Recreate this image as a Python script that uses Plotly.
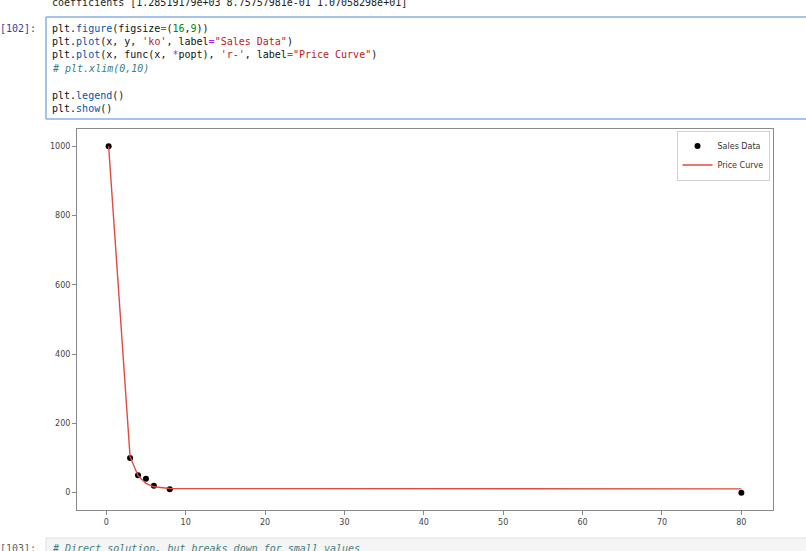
import plotly.graph_objects as go

# sales data points (x, y)
sales_x = [0.3, 3, 4, 5, 6, 8, 80]
sales_y = [1000, 100, 50, 40, 20, 10, 0]
# fitted price curve, sampled at the same x values
curve_y = [1000, 104, 49, 27, 17, 12, 11]

x_ticks = [0, 10, 20, 30, 40, 50, 60, 70, 80]
y_ticks = [0, 200, 400, 600, 800, 1000]

code_lines = [
    'plt.<span style="color:#0055aa">figure</span>(figsize<span style="color:#aa22ff">=</span>(<span style="color:#008800">16</span>,<span style="color:#008800">9</span>))',
    'plt.<span style="color:#0055aa">plot</span>(x, y, <span style="color:#ba2121">\'ko\'</span>, label<span style="color:#aa22ff">=</span><span style="color:#ba2121">"Sales Data"</span>)',
    'plt.<span style="color:#0055aa">plot</span>(x, func(x, <span style="color:#aa22ff">*</span>popt), <span style="color:#ba2121">\'r-\'</span>, label<span style="color:#aa22ff">=</span><span style="color:#ba2121">"Price Curve"</span>)',
    '<i><span style="color:#408080"># plt.xlim(0,10)</span></i>',
    '',
    'plt.<span style="color:#0055aa">legend</span>()',
    'plt.<span style="color:#0055aa">show</span>()',
]
coef_line = "coefficients [1.28519179e+03 8.75757981e-01 1.07058298e+01]"
next_line = "# Direct solution, but breaks down for small values"

W, H = 806, 551
L, R, T, B = 77, 773, 129, 510


def px(x):
    return (x - L) / (R - L)


def py(y):
    return (B - y) / (B - T)


def pad(lo, hi):
    d = 0.05 * (hi - lo)
    return [lo - d, hi + d]


fig = go.Figure()
fig.add_trace(go.Scatter(x=sales_x, y=sales_y, mode="markers", name="Sales Data",
                         marker=dict(color="black", size=6)))
fig.add_trace(go.Scatter(x=sales_x, y=curve_y, mode="lines", name="Price Curve",
                         line=dict(color="#e04a40", width=1.4)))

mono = "DejaVu Sans Mono"
ann = []
ann.append(dict(x=px(50), y=py(3), text=coef_line, font=dict(family=mono, size=10, color="#222")))
ann.append(dict(x=px(38), y=py(28), text="[102]:", xanchor="right", font=dict(family=mono, size=10, color="#303f9f")))
for i, line in enumerate(code_lines):
    if line:
        ann.append(dict(x=px(50), y=py(28 + i * 13.4), text=line, font=dict(family=mono, size=10, color="#111")))
ann.append(dict(x=px(38), y=py(548), text="[103]:", xanchor="right", font=dict(family=mono, size=10, color="#616161")))
ann.append(dict(x=px(50), y=py(548), text="<i>" + next_line + "</i>", font=dict(family=mono, size=10, color="#408080")))
for a in ann:
    a.update(xref="paper", yref="paper", xanchor=a.get("xanchor", "left"), yanchor="middle", showarrow=False)

shapes = [
    dict(type="rect", xref="paper", yref="paper", x0=px(46), x1=px(812), y0=py(119), y1=py(17),
         line=dict(color="#4a8ad4", width=1), fillcolor="rgba(0,0,0,0)", layer="below"),
    dict(type="rect", xref="paper", yref="paper", x0=px(46), x1=px(812), y0=py(560), y1=py(538),
         line=dict(color="#e0e0e0", width=1), fillcolor="#f5f5f5", layer="below"),
]

axis_style = dict(showline=True, mirror=True, linecolor="#8a8a8a", linewidth=1,
                  ticks="outside", ticklen=4, tickcolor="#8a8a8a",
                  showgrid=False, zeroline=False,
                  tickfont=dict(family="DejaVu Sans", size=8, color="#444"))

fig.update_layout(
    width=W, height=H,
    margin=dict(l=L, r=W - R, t=T, b=H - B),
    paper_bgcolor="white", plot_bgcolor="white",
    showlegend=True,
    legend=dict(x=0.995, y=0.996, xanchor="right", yanchor="top",
                bordercolor="#d0d0d0", borderwidth=1, bgcolor="white",
                font=dict(family="DejaVu Sans", size=8, color="#333"),
                itemwidth=30, tracegroupgap=0),
    annotations=ann,
    shapes=shapes,
)
fig.update_xaxes(range=pad(min(sales_x), max(sales_x)), tickvals=x_ticks, **axis_style)
fig.update_yaxes(range=pad(min(sales_y), max(sales_y)), tickvals=y_ticks, **axis_style)

fig.write_html("out.html", config={"displayModeBar": False},
               post_script="document.body.style.margin='0';document.body.style.overflow='hidden';")
